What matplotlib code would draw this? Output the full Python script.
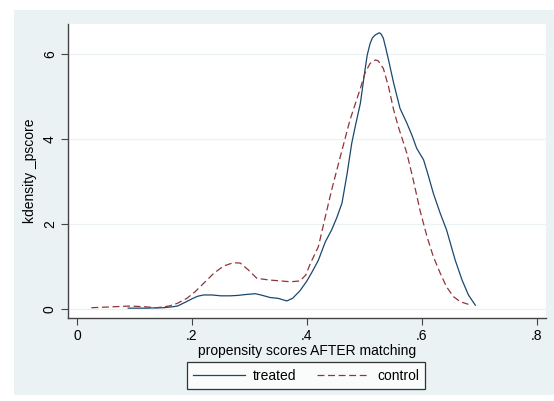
import matplotlib
matplotlib.use("Agg")
import matplotlib.pyplot as plt
from matplotlib.patches import Rectangle

plt.rcParams['font.family'] = ['Liberation Sans', 'DejaVu Sans']
plt.rcParams['lines.scale_dashes'] = False

treated_x = [0.089, 0.12, 0.15, 0.165, 0.175, 0.19, 0.20, 0.21, 0.22, 0.235, 0.25, 0.267,
             0.28, 0.293, 0.31, 0.32, 0.336, 0.35, 0.365, 0.375, 0.388, 0.40, 0.411, 0.42,
             0.432, 0.443, 0.452, 0.461, 0.470, 0.478, 0.484, 0.493, 0.501, 0.505, 0.510,
             0.514, 0.519, 0.526, 0.529, 0.533, 0.537, 0.542, 0.551, 0.562, 0.574, 0.583,
             0.591, 0.603, 0.611, 0.620, 0.632, 0.643, 0.658, 0.670, 0.681, 0.693]
treated_y = [0.02, 0.02, 0.03, 0.05, 0.07, 0.17, 0.24, 0.30, 0.33, 0.33, 0.31, 0.31,
             0.32, 0.34, 0.36, 0.33, 0.27, 0.25, 0.19, 0.25, 0.43, 0.66, 0.92, 1.15,
             1.58, 1.86, 2.15, 2.49, 3.19, 3.90, 4.29, 4.84, 5.62, 5.98, 6.25,
             6.38, 6.45, 6.50, 6.47, 6.37, 6.15, 5.86, 5.31, 4.72, 4.37, 4.08,
             3.78, 3.51, 3.15, 2.72, 2.25, 1.86, 1.15, 0.68, 0.33, 0.09]

control_x = [0.025, 0.06, 0.093, 0.12, 0.139, 0.16, 0.174, 0.191, 0.205, 0.220, 0.238,
             0.255, 0.272, 0.284, 0.298, 0.313, 0.336, 0.355, 0.371, 0.388, 0.398, 0.406,
             0.420, 0.432, 0.443, 0.458, 0.475, 0.493, 0.501, 0.510, 0.519, 0.524, 0.533,
             0.542, 0.551, 0.559, 0.574, 0.585, 0.597, 0.609, 0.620, 0.632, 0.643, 0.655,
             0.667, 0.681]
control_y = [0.03, 0.05, 0.07, 0.05, 0.03, 0.07, 0.13, 0.25, 0.40, 0.60, 0.84,
             1.01, 1.09, 1.08, 0.92, 0.72, 0.68, 0.66, 0.64, 0.66, 0.80, 1.07,
             1.47, 2.17, 2.80, 3.58, 4.45, 5.19, 5.55, 5.78, 5.86, 5.84, 5.66,
             5.23, 4.68, 4.29, 3.66, 3.04, 2.31, 1.70, 1.23, 0.84, 0.52, 0.29,
             0.17, 0.11]

xticks = [0, 0.2, 0.4, 0.6, 0.8]
xticklabels = ["0", ".2", ".4", ".6", ".8"]
yticks = [0, 2, 4, 6]
yticklabels = ["0", "2", "4", "6"]

navy = "#1A476F"
maroon = "#90353B"
bg = "#EAF2F3"

W, H = 554, 401
fig = plt.figure(figsize=(W / 100, H / 100), dpi=100)
fig.patch.set_facecolor("white")
bgrect = Rectangle((14 / W, 1 - 395 / H), (554 - 14) / W, (395 - 10) / H,
                   transform=fig.transFigure, facecolor=bg, edgecolor="none", zorder=-10)
fig.patches.append(bgrect)

ax = fig.add_axes([68 / W, 1 - 318 / H, (546 - 68) / W, (318 - 24) / H])
ax.set_zorder(1)
ax.set_facecolor("white")
ax.plot(treated_x, treated_y, color=navy, lw=0.9, label="treated")
ax.plot(control_x, control_y, color=maroon, lw=0.9, dashes=(5, 2.6), label="control")

ax.set_xlim(-0.0157, 0.816)
ax.set_ylim(-0.212, 6.706)
ax.set_xticks(xticks)
ax.set_xticklabels(xticklabels)
ax.set_yticks(yticks)
ax.set_yticklabels(yticklabels, rotation=90, va="center")
ax.grid(axis="y", color=bg, lw=0.9)
ax.set_axisbelow(True)
for s in ["top", "right"]:
    ax.spines[s].set_visible(False)
for s in ["left", "bottom"]:
    ax.spines[s].set_color("#444444")
    ax.spines[s].set_linewidth(1.0)
ax.tick_params(direction="out", length=5, width=0.8, color="#444444", labelsize=10, pad=3)
ax.set_xlabel("propensity scores AFTER matching", fontsize=10, labelpad=1)
ax.set_ylabel("kdensity _pscore", fontsize=10, labelpad=4)

leg = fig.legend(loc="center", bbox_to_anchor=(306.3 / W, 1 - 375.5 / H), ncol=2,
                 fontsize=10, frameon=True, fancybox=False, edgecolor="black",
                 handlelength=3.7, columnspacing=1.5, handletextpad=0.6,
                 borderpad=0.45)
leg.get_frame().set_linewidth(0.9)
leg.get_frame().set_facecolor("white")
leg.set_zorder(2)

fig.savefig("out.png", dpi=100, facecolor="white")
